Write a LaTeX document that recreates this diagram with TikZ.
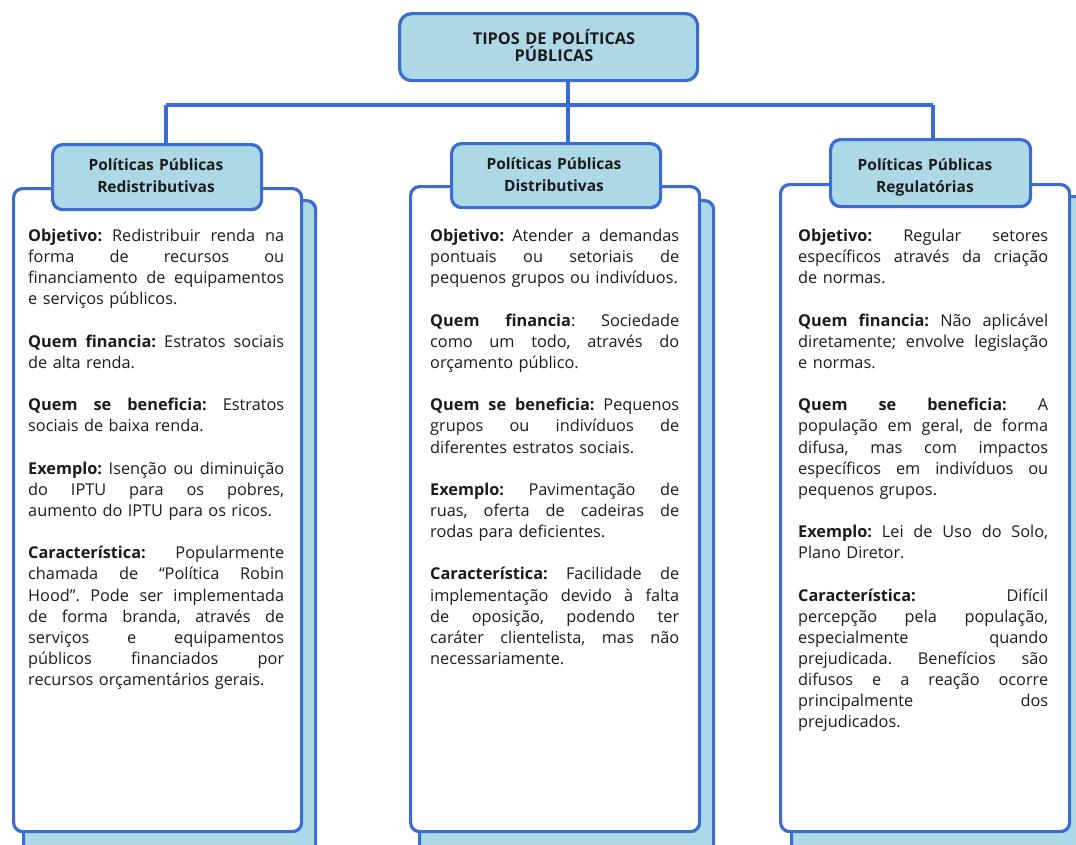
\documentclass[tikz,border=0pt]{standalone}
\usepackage{fontspec}
\setmainfont{Open Sans}
\frenchspacing
\definecolor{bord}{RGB}{58,108,212}
\definecolor{lblue}{RGB}{173,216,230}
\definecolor{txt}{RGB}{28,28,28}
\newcommand{\jl}[1]{\leavevmode\hbox to \hsize{\spaceskip=\fontdimen2\font plus 1fil\relax #1}\\}
\newcommand{\lastl}[1]{#1\\[21.15pt]}
\tikzset{
  hbox/.style={draw=bord, fill=lblue, line width=3.2pt, rounded corners=10pt, inner sep=0pt, anchor=north west},
  shadowbox/.style={draw=bord, fill=lblue, line width=3.2pt, rounded corners=9pt, inner sep=0pt, anchor=north west},
  panel/.style={draw=bord, fill=white, line width=3.2pt, rounded corners=9pt, inner sep=0pt, anchor=north west},
  conn/.style={draw=bord, line width=3.6pt},
  htext/.style={text=txt, font=\bfseries\fontsize{15.5}{22}\selectfont, align=center, text width=200pt, inner sep=0pt, anchor=base},
  ttext/.style={text=txt, font=\bfseries\fontsize{16.3}{17}\selectfont, align=center, text width=250pt, inner sep=0pt, anchor=base},
  body/.style={text=txt, font=\frenchspacing\fontsize{16.3}{21.15}\selectfont, align=left, inner sep=0pt, anchor=base west}
}
\begin{document}
\begin{tikzpicture}[x=1pt,y=-1pt]
\useasboundingbox (0,0) rectangle (1076,844);
\clip (0,0) rectangle (1076,844);
% top box
\node[hbox, minimum width=298pt, minimum height=67pt, rounded corners=12pt] (top) at (398,12) {};
\node[ttext] (toplabel) at (554,44.3) {TIPOS DE POLÍTICAS\\PÚBLICAS};
% junction coordinates
\coordinate (jl) at (166,105);
\coordinate (jm) at (568,105);
\coordinate (jr) at (933,105);
% shadows
\node[shadowbox, minimum width=292pt, minimum height=660pt] (s1) at (22,199) {};
\node[shadowbox, minimum width=294pt, minimum height=660pt] (s2) at (418,199) {};
\node[shadowbox, minimum width=294pt, minimum height=660pt] (s3) at (790,195) {};
% front panels
\node[panel, minimum width=288pt, minimum height=643pt] (p1) at (12,187) {};
\node[panel, minimum width=289pt, minimum height=645pt] (p2) at (409,185) {};
\node[panel, minimum width=289pt, minimum height=647pt] (p3) at (779,183) {};
% headers
\node[hbox, minimum width=209pt, minimum height=65pt] (h1) at (51,143) {};
\node[hbox, minimum width=209pt, minimum height=64pt] (h2) at (450,142) {};
\node[hbox, minimum width=200pt, minimum height=67pt] (h3) at (829,138) {};
% connectors
\draw[conn] (jl) -- (jr);
\draw[conn] (jm |- top.south) -- (jm) -- (jm |- h2.north);
\draw[conn] (jl) -- (jl |- h1.north);
\draw[conn] (jr) -- (jr |- h3.north);
% header labels
\node[htext] (h1label) at (156,170.5) {Políticas Públicas\\Redistributivas};
\node[htext] (h2label) at (554,169.5) {Políticas Públicas\\Distributivas};
\node[htext] (h3label) at (925,170.5) {Políticas Públicas\\Regulatórias};
% body texts
\node[body, text width=256pt] (t1) at (28,241.5) {%
\jl{\textbf{Objetivo:} Redistribuir renda na}
\jl{forma de recursos ou}
\jl{financiamento de equipamentos}
\lastl{e serviços públicos.}
\jl{\textbf{Quem financia:} Estratos sociais}
\lastl{de alta renda.}
\jl{\textbf{Quem se beneficia:} Estratos}
\lastl{sociais de baixa renda.}
\jl{\textbf{Exemplo:} Isenção ou diminuição}
\jl{do IPTU para os pobres,}
\lastl{aumento do IPTU para os ricos.}
\jl{\textbf{Característica:} Popularmente}
\jl{chamada de “Política Robin}
\jl{Hood”. Pode ser implementada}
\jl{de forma branda, através de}
\jl{serviços e equipamentos}
\jl{públicos financiados por}
recursos orçamentários gerais.};
\node[body, text width=249pt] (t2) at (430,241.5) {%
\jl{\textbf{Objetivo:} Atender a demandas}
\jl{pontuais ou setoriais de}
\lastl{pequenos grupos ou indivíduos.}
\jl{\textbf{Quem financia}: Sociedade}
\jl{como um todo, através do}
\lastl{orçamento público.}
\jl{\textbf{Quem se beneficia:} Pequenos}
\jl{grupos ou indivíduos de}
\lastl{diferentes estratos sociais.}
\jl{\textbf{Exemplo:} Pavimentação de}
\jl{ruas, oferta de cadeiras de}
\lastl{rodas para deficientes.}
\jl{\textbf{Característica:} Facilidade de}
\jl{implementação devido à falta}
\jl{de oposição, podendo ter}
\jl{caráter clientelista, mas não}
necessariamente.};
\node[body, text width=250pt] (t3) at (798,241.5) {%
\jl{\textbf{Objetivo:} Regular setores}
\jl{específicos através da criação}
\lastl{de normas.}
\jl{\textbf{Quem financia:} Não aplicável}
\jl{diretamente; envolve legislação}
\lastl{e normas.}
\jl{\textbf{Quem se beneficia:} A}
\jl{população em geral, de forma}
\jl{difusa, mas com impactos}
\jl{específicos em indivíduos ou}
\lastl{pequenos grupos.}
\jl{\textbf{Exemplo:} Lei de Uso do Solo,}
\lastl{Plano Diretor.}
\jl{\textbf{Característica:} Difícil}
\jl{percepção pela população,}
\jl{especialmente quando}
\jl{prejudicada. Benefícios são}
\jl{difusos e a reação ocorre}
\jl{principalmente dos}
prejudicados.};
\end{tikzpicture}
\end{document}
